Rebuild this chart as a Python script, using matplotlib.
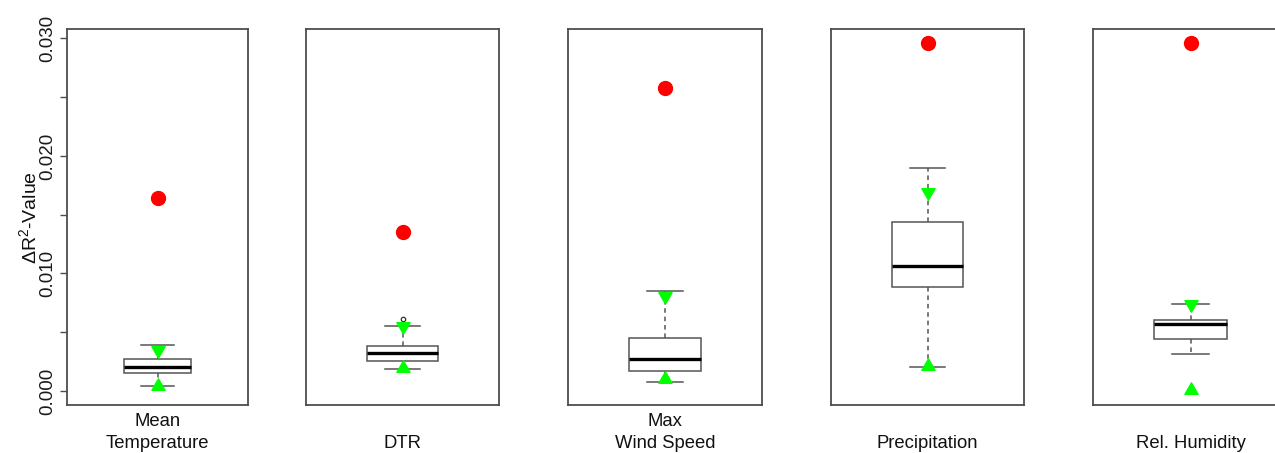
import matplotlib
matplotlib.use("Agg")
import matplotlib.pyplot as plt
import numpy as np
from matplotlib.path import Path

plt.rcParams['font.family'] = ['Liberation Sans', 'DejaVu Sans']
plt.rcParams['mathtext.fontset'] = 'custom'
plt.rcParams['mathtext.rm'] = 'Liberation Sans'
plt.rcParams['mathtext.it'] = 'Liberation Sans:italic'

# Climate variables and their delta R^2 summaries
variables = ["Mean\nTemperature", "DTR", "Max\nWind Speed", "Precipitation", "Rel. Humidity"]
whisker_low = [0.00045, 0.00187, 0.00077, 0.00202, 0.00315]
quart1 = [0.00151, 0.00258, 0.00173, 0.00882, 0.00440]
medians = [0.00204, 0.00321, 0.00272, 0.01061, 0.00567]
quart3 = [0.00272, 0.00385, 0.00448, 0.01435, 0.00606]
whisker_high = [0.00389, 0.00553, 0.00851, 0.01899, 0.00743]
outliers = [[], [0.00610], [], [], []]
full_model = [0.01642, 0.01352, 0.02577, 0.02960, 0.02960]
upper_mark = [0.00348, 0.00556, 0.00807, 0.01692, 0.00739]
lower_mark = [0.00044, 0.00197, 0.00103, 0.00214, 0.00005]

y_ticks = [0.000, 0.005, 0.010, 0.015, 0.020, 0.025, 0.030]
y_ticklabels = ["0.000", "", "0.010", "", "0.020", "", "0.030"]

W, H = 1275, 453
fig = plt.figure(figsize=(W / 100, H / 100), dpi=100)

# panel frames in pixel units (left, right)
panels_px = [(67, 248), (306, 499), (568, 762), (831, 1024), (1093, 1288)]
top_px, bot_px = 29.3, 405

tri_up = Path([(0, 1), (-0.866, -0.5), (0.866, -0.5), (0, 1)],
              [Path.MOVETO, Path.LINETO, Path.LINETO, Path.CLOSEPOLY])
tri_down = Path([(0, -1), (-0.866, 0.5), (0.866, 0.5), (0, -1)],
                [Path.MOVETO, Path.LINETO, Path.LINETO, Path.CLOSEPOLY])

frame_col = '#4d4d4d'
line_col = '#555555'

for i, (l, r) in enumerate(panels_px):
    ax = fig.add_axes([l / W, (H - bot_px) / H, (r - l) / W, (bot_px - top_px) / H])
    stats = [dict(whislo=whisker_low[i], q1=quart1[i], med=medians[i],
                  q3=quart3[i], whishi=whisker_high[i], fliers=outliers[i])]
    ax.bxp(stats, positions=[0.5], widths=0.372, capwidths=0.186,
           showfliers=True, patch_artist=True,
           boxprops=dict(facecolor='white', edgecolor=line_col, linewidth=1.1),
           medianprops=dict(color='black', linewidth=2.4, solid_capstyle='butt'),
           whiskerprops=dict(color=line_col, linewidth=1.1, linestyle=(0, (3, 2.5))),
           capprops=dict(color=line_col, linewidth=1.1),
           flierprops=dict(marker='o', markersize=3.2, markerfacecolor='none',
                           markeredgecolor='#333333', markeredgewidth=0.9))
    ax.plot([0.5], [full_model[i]], 'o', color='#ff0000', markersize=10, zorder=5)
    ax.plot([0.5], [upper_mark[i]], marker=tri_down, linestyle='none',
            color='#00ff00', markersize=11, zorder=5)
    ax.plot([0.5], [lower_mark[i]], marker=tri_up, linestyle='none',
            color='#00ff00', markersize=11, zorder=5)

    ax.set_xlim(0, 1)
    ax.set_ylim(-0.00119, 0.03077)
    ax.set_xticks([])
    for s in ax.spines.values():
        s.set_color(frame_col)
        s.set_linewidth(1.3)

    if i == 0:
        ax.set_yticks(y_ticks)
        ax.set_yticklabels(y_ticklabels, rotation=90, va='center', fontsize=13.5,
                           color='#1a1a1a')
        ax.tick_params(axis='y', length=5, width=1.0, color=frame_col, pad=2.5)
    else:
        ax.set_yticks([])

    cx = (l + r) / 2 / W
    fig.text(cx, (H - 452) / H, variables[i], ha='center', va='bottom',
             fontsize=13.3, linespacing=1.38, color='#111111')

fig.text(29 / W, (H - (top_px + bot_px) / 2) / H, r'$\Delta$R$^2$-Value',
         rotation=90, ha='center', va='center', fontsize=14, color='#111111')

fig.savefig("out.png", dpi=100)
